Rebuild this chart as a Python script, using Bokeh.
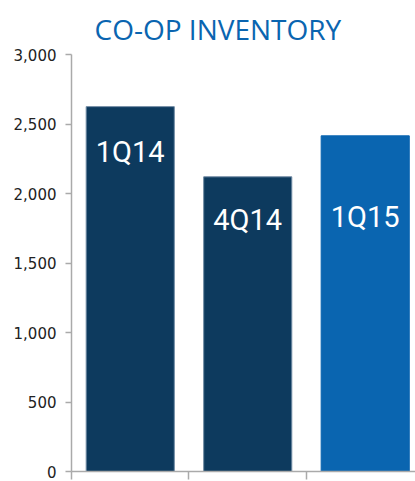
from bokeh.plotting import figure
from bokeh.models import Range1d, FixedTicker, NumeralTickFormatter, ColumnDataSource, LabelSet
from bokeh.core.properties import value
from bokeh.embed import file_html
from bokeh.resources import INLINE

quarters = ["1Q14", "4Q14", "1Q15"]
inventory = [2625, 2120, 2415]
bar_colors = ["#0d3a5e", "#0d3a5e", "#0a65b0"]
edge_colors = ["#6f8aa3", "#6f8aa3", "#0a65b0"]
label_y = [2300, 1810, 1830]
y_ticks = [0, 500, 1000, 1500, 2000, 2500, 3000]
x_ticks = [0, 1, 2]

x_pos = [i + 0.5 for i in range(len(quarters))]

src = ColumnDataSource(dict(x=x_pos, top=inventory, color=bar_colors, edge=edge_colors,
                            label=quarters, ly=label_y))

p = figure(width=415, height=481, output_backend="svg", toolbar_location=None,
           x_range=Range1d(0, 2.928), y_range=Range1d(0, 3000),
           min_border_left=71, min_border_right=0, min_border_bottom=10, min_border_top=0)

p.vbar(x="x", top="top", width=0.75, bottom=0, fill_color="color", line_color="edge",
       line_width=1, source=src)

labels = LabelSet(x="x", y="ly", text="label", source=src, text_align="center",
                  text_baseline="middle", text_color="white", text_font_size="29px",
                  text_font=value("Roboto"))
p.add_layout(labels)

p.title.text = "CO-OP INVENTORY"
p.title.align = "left"
p.title.offset = 23
p.title.text_font = "Open Sans"
p.title.text_font_size = "28px"
p.title.text_font_style = "normal"
p.title.text_color = "#0a65b0"
p.title.standoff = 14

p.xgrid.visible = False
p.ygrid.visible = False
p.outline_line_color = None

ya = p.yaxis[0]
ya.ticker = FixedTicker(ticks=y_ticks)
ya.formatter = NumeralTickFormatter(format="0,0")
ya.axis_line_color = "#aaaaaa"
ya.axis_line_width = 1.5
ya.major_tick_line_color = "#aaaaaa"
ya.major_tick_line_width = 1.5
ya.major_tick_out = 6
ya.major_tick_in = 0
ya.minor_tick_line_color = None
ya.major_label_text_font = "DejaVu Sans"
ya.major_label_text_font_size = "15px"
ya.major_label_text_color = "#222222"
ya.major_label_standoff = 9

xa = p.xaxis[0]
xa.ticker = FixedTicker(ticks=x_ticks)
xa.axis_line_color = "#aaaaaa"
xa.axis_line_width = 1.5
xa.major_tick_line_color = "#aaaaaa"
xa.major_tick_line_width = 1.5
xa.major_tick_out = 8
xa.major_tick_in = 0
xa.minor_tick_line_color = None
xa.major_label_overrides = {0: "", 1: "", 2: ""}
xa.major_label_text_font_size = "0px"
xa.major_label_standoff = 0

open("out.html", "w").write(file_html(p, INLINE))
